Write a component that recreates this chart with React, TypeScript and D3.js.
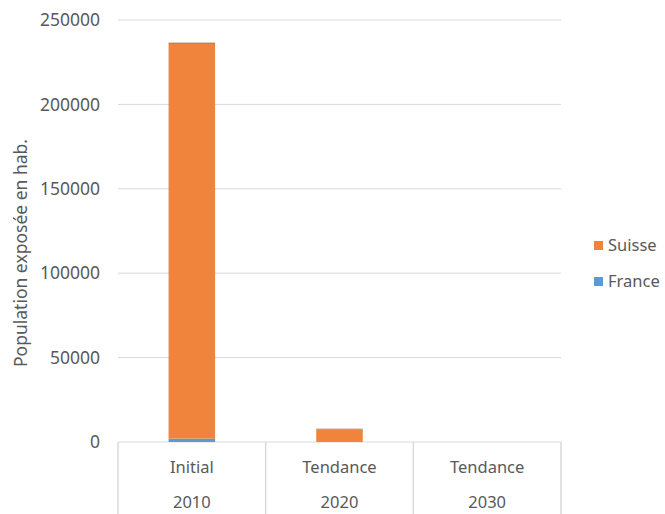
import React from "react";
import * as d3 from "d3";

const scenarios = ["Initial", "Tendance", "Tendance"];
const years = ["2010", "2020", "2030"];
const france = [2000, 0, 0];
const suisse = [233800, 7300, 0];
const autres = [800, 600, 0];
const yTicks = [0, 50000, 100000, 150000, 200000, 250000];

const W = 665;
const H = 514;
const plot = { left: 118, right: 561, top: 20, bottom: 442 };
const font = "'Noto Sans', 'Open Sans', sans-serif";
const textColor = "#595959";
const gridColor = "#d9d9d9";

const seriesDefs = [
  { key: "France", values: france, color: "#5b9bd5", legend: true },
  { key: "Suisse", values: suisse, color: "#f0843c", legend: true },
  { key: "other", values: autres, color: "#a08c55", legend: false },
];

export default function App() {
  const idx = d3.range(years.length);
  const x = d3
    .scaleBand<number>()
    .domain(idx)
    .range([plot.left, plot.right])
    .paddingInner(0)
    .paddingOuter(0);
  const y = d3.scaleLinear().domain([0, 250000]).range([plot.bottom, plot.top]);
  const barW = x.bandwidth() * 0.315;

  const stack = d3
    .stack<number>()
    .keys(seriesDefs.map((s) => s.key))
    .value((i, key) => seriesDefs.find((s) => s.key === key)!.values[i]);
  const stacked = stack(idx);

  const legendItems = [...seriesDefs].filter((s) => s.legend).reverse();

  return (
    <svg width={W} height={H} style={{ position: "absolute", left: 0, top: 0, background: "#fff" }}>
      {/* horizontal gridlines */}
      {yTicks.map((t) => (
        <line
          key={t}
          x1={plot.left}
          x2={plot.right}
          y1={y(t)}
          y2={y(t)}
          stroke={gridColor}
          strokeWidth={1}
        />
      ))}
      {/* y tick labels */}
      {yTicks.map((t) => (
        <text
          key={"l" + t}
          x={100}
          y={y(t)}
          dy="0.35em"
          textAnchor="end"
          fontFamily={font}
          fontSize={17.5}
          fill={textColor}
        >
          {t}
        </text>
      ))}
      {/* y axis title */}
      <text
        transform={`translate(21, 253) rotate(-90)`}
        textAnchor="middle"
        dy="0.35em"
        fontFamily={font}
        fontSize={17.5}
        fill={textColor}
      >
        Population exposée en hab.
      </text>
      {/* stacked bars */}
      {stacked.map((layer, li) => (
        <g key={layer.key}>
          {layer.map((d, i) => {
            const h = y(d[0]) - y(d[1]);
            if (h <= 0) return null;
            return (
              <rect
                key={i}
                x={x(i)! + x.bandwidth() / 2 - barW / 2}
                y={y(d[1])}
                width={barW}
                height={h}
                fill={seriesDefs[li].color}
              />
            );
          })}
        </g>
      ))}
      {/* category separators below the axis */}
      {[...idx, years.length].map((i) => {
        const xx = i < years.length ? x(i)! : plot.right;
        return (
          <line
            key={"s" + i}
            x1={xx}
            x2={xx}
            y1={plot.bottom}
            y2={H}
            stroke={gridColor}
            strokeWidth={1.5}
          />
        );
      })}
      {/* category labels */}
      {idx.map((i) => (
        <g key={"c" + i}>
          <text
            x={x(i)! + x.bandwidth() / 2}
            y={467}
            dy="0.35em"
            textAnchor="middle"
            fontFamily={font}
            fontSize={16.5}
            fill={textColor}
          >
            {scenarios[i]}
          </text>
          <text
            x={x(i)! + x.bandwidth() / 2}
            y={502}
            dy="0.35em"
            textAnchor="middle"
            fontFamily={font}
            fontSize={16.5}
            fill={textColor}
          >
            {years[i]}
          </text>
        </g>
      ))}
      {/* legend */}
      {legendItems.map((s, i) => (
        <g key={"lg" + s.key} transform={`translate(594, ${245 + i * 36})`}>
          <rect x={0} y={-4} width={9} height={9} fill={s.color} />
          <text x={14} y={0} dy="0.35em" fontFamily={font} fontSize={16.5} fill={textColor}>
            {s.key}
          </text>
        </g>
      ))}
    </svg>
  );
}
